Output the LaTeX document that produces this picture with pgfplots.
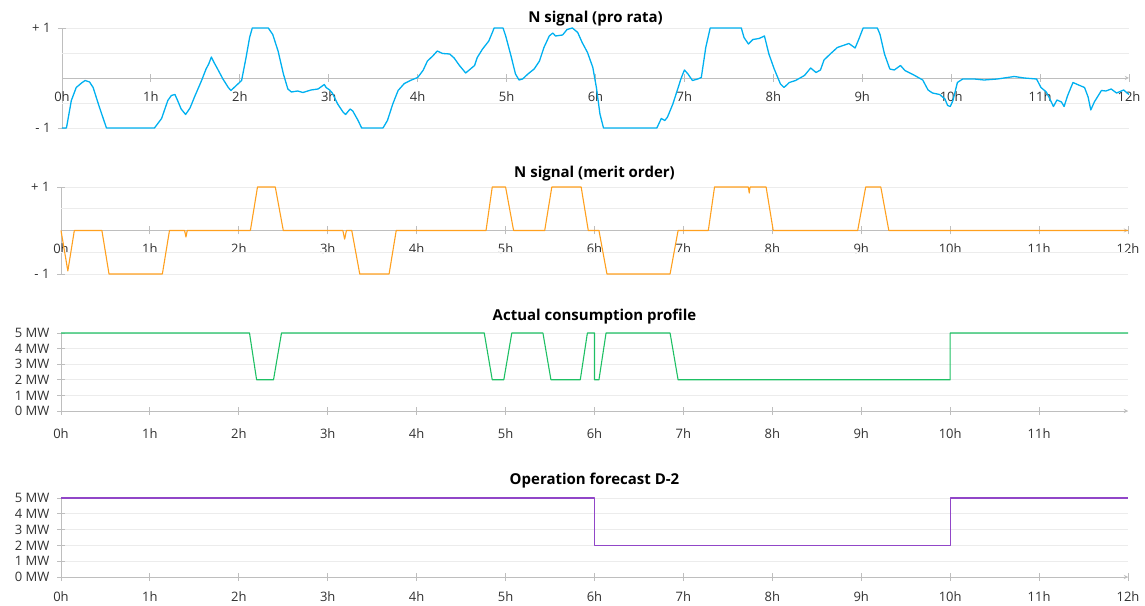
\documentclass[border=0pt]{standalone}
\usepackage{fontspec}
\setmainfont{Open Sans}
\usepackage{pgfplots}
\pgfplotsset{compat=1.18}
\definecolor{cblue}{RGB}{0,176,240}
\definecolor{corange}{RGB}{255,160,30}
\definecolor{cgreen}{RGB}{30,192,100}
\definecolor{cpurple}{RGB}{145,70,200}
\definecolor{axisgray}{RGB}{190,190,190}
\definecolor{gridgray}{RGB}{236,236,236}
\definecolor{labelgray}{RGB}{50,50,50}

\pgfplotstableread{
x y
0 -1
0.05 -1
0.105 -0.45
0.16 -0.19
0.22 -0.1
0.26 -0.05
0.31 -0.08
0.35 -0.19
0.42 -0.58
0.50 -1
1.04 -1
1.12 -0.81
1.19 -0.45
1.23 -0.35
1.27 -0.33
1.30 -0.45
1.34 -0.62
1.39 -0.73
1.44 -0.6
1.49 -0.38
1.57 -0.05
1.62 0.18
1.65 0.28
1.68 0.42
1.71 0.31
1.75 0.18
1.81 -0.02
1.87 -0.19
1.90 -0.25
1.96 -0.15
2.02 -0.05
2.07 0.41
2.11 0.81
2.14 1.0
2.32 1.0
2.37 0.87
2.43 0.54
2.49 0.08
2.54 -0.22
2.58 -0.28
2.65 -0.26
2.71 -0.29
2.80 -0.24
2.88 -0.22
2.95 -0.13
2.97 -0.19
3.01 -0.24
3.04 -0.3
3.10 -0.52
3.16 -0.68
3.19 -0.73
3.24 -0.62
3.27 -0.66
3.33 -0.85
3.37 -1
3.61 -1
3.66 -0.85
3.72 -0.52
3.78 -0.25
3.85 -0.11
3.93 -0.04
4.0 0.01
4.06 0.15
4.11 0.34
4.17 0.44
4.22 0.54
4.28 0.49
4.36 0.48
4.41 0.40
4.47 0.25
4.54 0.10
4.58 0.16
4.64 0.25
4.67 0.41
4.73 0.58
4.80 0.74
4.84 0.91
4.86 1.0
4.96 1.0
4.99 0.84
5.05 0.44
5.10 0.08
5.14 -0.04
5.18 -0.02
5.24 0.08
5.31 0.18
5.37 0.34
5.42 0.61
5.48 0.84
5.52 0.9
5.55 0.84
5.63 0.86
5.68 0.97
5.74 1.0
5.80 0.91
5.85 0.71
5.91 0.51
5.97 0.21
6.01 -0.19
6.05 -0.72
6.09 -1
6.69 -1
6.74 -0.81
6.78 -0.85
6.81 -0.78
6.87 -0.52
6.93 -0.19
6.96 -0.02
7.0 0.16
7.04 0.08
7.09 -0.05
7.15 -0.02
7.19 0.01
7.24 0.61
7.29 1.0
7.64 1.0
7.67 0.81
7.72 0.68
7.77 0.77
7.84 0.79
7.90 0.84
7.95 0.48
8.01 0.18
8.08 -0.12
8.12 -0.19
8.18 -0.09
8.25 -0.05
8.35 0.05
8.42 0.20
8.48 0.11
8.53 0.16
8.57 0.36
8.64 0.48
8.72 0.61
8.85 0.69
8.92 0.60
8.96 0.77
9.01 1.0
9.17 1.0
9.2 0.87
9.25 0.48
9.31 0.18
9.36 0.16
9.43 0.25
9.48 0.15
9.57 0.07
9.68 -0.04
9.74 -0.24
9.79 -0.3
9.87 -0.33
9.93 -0.42
9.96 -0.55
9.99 -0.57
10.02 -0.45
10.07 -0.09
10.13 -0.02
10.26 -0.02
10.37 -0.04
10.52 -0.02
10.71 0.03
10.82 0.0
10.96 -0.02
11.01 -0.19
11.07 -0.28
11.11 -0.42
11.15 -0.57
11.19 -0.44
11.24 -0.48
11.27 -0.57
11.31 -0.35
11.37 -0.09
11.42 -0.13
11.50 -0.19
11.54 -0.38
11.57 -0.64
11.61 -0.48
11.69 -0.25
11.74 -0.26
11.80 -0.22
11.86 -0.3
11.94 -0.24
12.0 -0.33
}\prorata

\pgfplotstableread{
x y
0 0
0.077 -0.93
0.15 0
0.46 0
0.54 -1
1.14 -1
1.22 0
1.39 0
1.405 -0.15
1.42 0
2.13 0
2.21 1
2.41 1
2.50 0
3.17 0
3.19 -0.2
3.21 0
3.27 0
3.36 -1
3.69 -1
3.77 0
4.78 0
4.85 1
5.0 1
5.09 0
5.44 0
5.52 1
5.85 1
5.93 0
6.05 0
6.14 -1
6.85 -1
6.94 0
7.28 0
7.35 1
7.73 1
7.74 0.86
7.75 1
7.93 1
8.01 0
8.96 0
9.05 1
9.22 1
9.31 0
12 0
}\merit

\pgfplotstableread{
x y
0 5
2.12 5
2.20 2
2.39 2
2.48 5
4.76 5
4.85 2
4.98 2
5.07 5
5.42 5
5.51 2
5.84 2
5.92 5
6.0 5
6.0 2
6.05 2
6.13 5
6.85 5
6.94 2
10.0 2
10.0 5
12 5
}\actual

\pgfplotstableread{
x y
0 5
6 5
6 2
10 2
10 5
12 5
}\forecast

\pgfplotsset{
  panel/.style={
    scale only axis, width=1067pt, xmin=0, xmax=12, clip=false,
    axis y line=left,
    axis line style={-, axisgray, line width=0.9pt},
    every inner x axis line/.append style={-},
    every outer x axis line/.append style={-},
    every inner y axis line/.append style={-},
    every outer y axis line/.append style={-},
    major tick style={axisgray, line width=0.9pt},
    xtick align=center, ytick align=center,
    major tick length=8pt,
    hide obscured x ticks=false, hide obscured y ticks=false,
    tick label style={font=\fontsize{13}{15}\selectfont, text=labelgray},
    xticklabel style={yshift=-6pt},
    yticklabel style={xshift=-4pt},
    title style={font=\fontsize{15}{17}\selectfont\bfseries, at={(0.5,1)}, anchor=base},
    grid style={gridgray, line width=0.9pt},
    ymajorgrids,
    xtick={0,...,12},
    xticklabels={0h,1h,2h,3h,4h,5h,6h,7h,8h,9h,10h,11h,12h},
  },
  signal/.style={
    panel, axis x line=middle, ymin=-1, ymax=1,
    ytick={-1,1}, yticklabels={- 1,+ 1},
    extra y ticks={-0.5,0.5}, extra y tick labels={},
    extra y tick style={major tick length=0pt, grid=major},
  },
  power/.style={
    panel, axis x line=bottom, ymin=0, ymax=5,
    ytick={0,...,5}, yticklabels={0 MW,1 MW,2 MW,3 MW,4 MW,5 MW},
    xticklabel style={yshift=-4pt},
  },
}

\begin{document}
\begin{tikzpicture}
\path[use as bounding box] (0,0) rectangle (1145pt,605pt);

\begin{axis}[signal, height=100pt, at={(62pt,477pt)}, anchor=south west,
  title={N signal (pro rata)}, title style={yshift=-1pt}]
\addplot[cblue, line width=1.3pt, line join=round] table[x=x,y=y] {\prorata};
\end{axis}

\begin{axis}[signal, height=87pt, at={(61pt,331pt)}, anchor=south west,
  title={N signal (merit order)}, title style={yshift=3pt}]
\addplot[corange, line width=1.1pt, line join=round] table[x=x,y=y] {\merit};
\end{axis}

\begin{axis}[power, height=78pt, at={(61pt,194pt)}, anchor=south west,
  xtick={0,...,11},
  title={Actual consumption profile}, title style={yshift=6pt}]
\addplot[cgreen, line width=1.1pt, line join=round] table[x=x,y=y] {\actual};
\end{axis}

\begin{axis}[power, height=79pt, at={(61pt,28pt)}, anchor=south west,
  xticklabel style={yshift=3pt},
  title={Operation forecast D-2}, title style={yshift=7pt}]
\addplot[cpurple, line width=1.1pt, line join=round] table[x=x,y=y] {\forecast};
\end{axis}
\end{tikzpicture}
\end{document}
